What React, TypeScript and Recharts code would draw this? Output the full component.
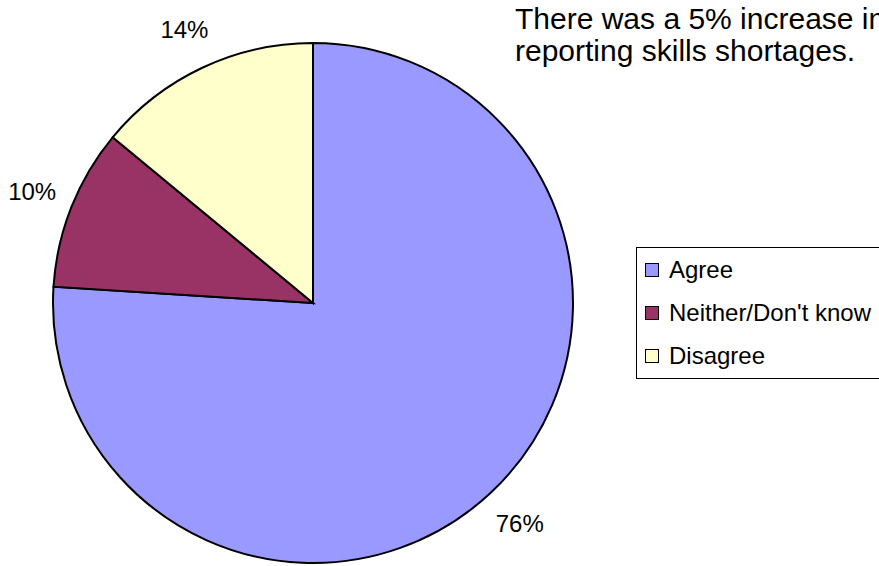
import React from 'react';
import { PieChart, Pie, Cell, Legend } from 'recharts';

const categories = ['Agree', "Neither/Don't know", 'Disagree'];
const values = [76, 10, 14];
const colors = ['#9999FF', '#993366', '#FFFFCC'];
const note = ['There was a 5% increase in', 'reporting skills shortages.'];

const data = categories.map((name, i) => ({ name, value: values[i] }));

const FONT = '"Liberation Sans", Arial, sans-serif';

const renderLabel = (props: any) => {
  const { cx, cy, midAngle, outerRadius, value } = props;
  const RAD = Math.PI / 180;
  const r = outerRadius + 42;
  const x = cx + r * Math.cos(-midAngle * RAD);
  const y = cy + r * Math.sin(-midAngle * RAD);
  return (
    <text x={x} y={y} textAnchor="middle" dominantBaseline="central" fill="#000" fontFamily={FONT} fontSize={24}>
      {`${value}%`}
    </text>
  );
};

const LegendBox = () => (
  <div
    style={{
      position: 'absolute',
      left: 636,
      top: 247,
      width: 300,
      height: 132,
      border: '1px solid #000',
      background: '#fff',
      boxSizing: 'border-box',
      fontFamily: FONT,
      fontSize: 24,
    }}
  >
    {categories.map((c, i) => (
      <div key={c} style={{ position: 'absolute', left: 8, top: 8 + i * 43, height: 28, display: 'flex', alignItems: 'center', whiteSpace: 'nowrap' }}>
        <span style={{ display: 'inline-block', width: 12, height: 12, border: '1.5px solid #000', background: colors[i], marginRight: 10 }} />
        <span>{c}</span>
      </div>
    ))}
  </div>
);

export default function App() {
  return (
    <div style={{ position: 'fixed', left: 0, top: 0, width: 879, height: 566, overflow: 'hidden', background: '#fff' }}>
      <PieChart width={879} height={566} margin={{ top: 0, right: 0, bottom: 0, left: 0 }}>
        <Pie
          data={data}
          dataKey="value"
          nameKey="name"
          cx={313}
          cy={303}
          outerRadius={260}
          startAngle={90}
          endAngle={-270}
          stroke="#000"
          strokeWidth={2}
          label={renderLabel}
          labelLine={false}
          isAnimationActive={false}
        >
          {data.map((d, i) => (
            <Cell key={d.name} fill={colors[i]} />
          ))}
        </Pie>
        <Legend content={() => null} />
      </PieChart>
      <LegendBox />
      <div style={{ position: 'absolute', left: 515, top: 3, fontFamily: FONT, fontSize: 30, lineHeight: '32px', whiteSpace: 'nowrap', color: '#000' }}>
        {note.map((t) => (
          <div key={t}>{t}</div>
        ))}
      </div>
    </div>
  );
}
